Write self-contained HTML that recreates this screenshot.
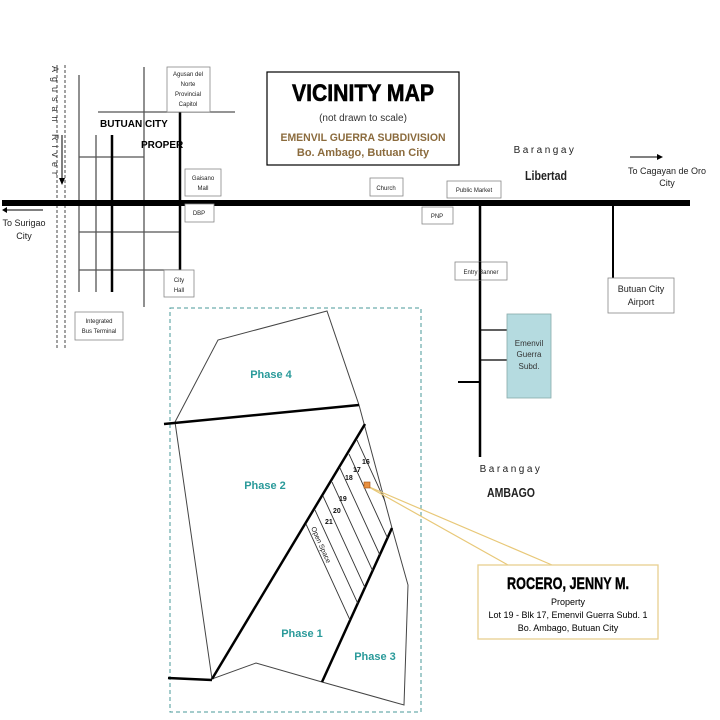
<!DOCTYPE html>
<html><head><meta charset="utf-8"><style>
html,body{margin:0;padding:0;background:#fff;}
svg{display:block;font-family:"Liberation Sans",sans-serif;}
.s{font-size:6px;fill:#222;}
</style></head><body>
<svg width="720" height="720" viewBox="0 0 720 720" xmlns="http://www.w3.org/2000/svg">
<defs>
<clipPath id="strip"><polygon points="212,679 365,424 392,528 322,682"/></clipPath>
</defs>
<rect width="720" height="720" fill="#fff"/>
<!-- river -->
<line x1="57" y1="65" x2="57" y2="350" stroke="#444" stroke-width="1" stroke-dasharray="3,2"/>
<line x1="65" y1="65" x2="65" y2="350" stroke="#444" stroke-width="1" stroke-dasharray="3,2"/>
<text transform="translate(52,66) rotate(90)" font-size="9" letter-spacing="5" fill="#333">Agusan   River</text>
<line x1="62" y1="135" x2="62" y2="178" stroke="#000" stroke-width="1"/>
<polygon points="59,178 65,178 62,185" fill="#000"/>
<!-- city grid -->
<g stroke="#555" stroke-width="1.3">
<line x1="79" y1="75" x2="79" y2="292"/>
<line x1="96" y1="135" x2="96" y2="292"/>
<line x1="144" y1="67" x2="144" y2="307"/>
<line x1="98" y1="112" x2="235" y2="112"/>
<line x1="79" y1="157" x2="144" y2="157"/>
<line x1="79" y1="232" x2="180" y2="232"/>
<line x1="79" y1="270" x2="180" y2="270"/>
</g>
<line x1="112" y1="135" x2="112" y2="292" stroke="#000" stroke-width="2.5"/>
<line x1="180" y1="112" x2="180" y2="270" stroke="#000" stroke-width="2.5"/>
<text x="100" y="127" font-size="10" font-weight="bold">BUTUAN CITY</text>
<text x="141" y="148" font-size="10" font-weight="bold">PROPER</text>
<!-- main road -->
<line x1="2" y1="203" x2="690" y2="203" stroke="#000" stroke-width="6"/>
<line x1="480" y1="203" x2="480" y2="457" stroke="#000" stroke-width="2.5"/>
<line x1="613" y1="203" x2="613" y2="278" stroke="#000" stroke-width="2"/>
<line x1="458" y1="382" x2="480" y2="382" stroke="#000" stroke-width="2"/>
<line x1="480" y1="330" x2="507" y2="330" stroke="#000" stroke-width="1.2"/>
<line x1="480" y1="360" x2="507" y2="360" stroke="#000" stroke-width="1.2"/>
<!-- arrows -->
<line x1="6" y1="210" x2="43" y2="210" stroke="#000" stroke-width="1"/>
<polygon points="2,210 7,207 7,213" fill="#000"/>
<text x="24" y="226" font-size="9" text-anchor="middle" fill="#222">To Surigao</text>
<text x="24" y="239" font-size="9" text-anchor="middle" fill="#222">City</text>
<line x1="630" y1="157" x2="658" y2="157" stroke="#000" stroke-width="1"/>
<polygon points="663,157 657,154 657,160" fill="#000"/>
<text x="667" y="174" font-size="9" text-anchor="middle" fill="#222">To  Cagayan de Oro</text>
<text x="667" y="186" font-size="9" text-anchor="middle" fill="#222">City</text>
<!-- small boxes -->
<g fill="#fff" stroke="#888" stroke-width="0.8">
<rect x="167" y="67" width="43" height="45"/>
<rect x="185" y="169" width="36" height="27"/>
<rect x="185" y="204" width="29" height="18"/>
<rect x="164" y="270" width="30" height="27"/>
<rect x="75" y="312" width="48" height="28"/>
<rect x="370" y="178" width="33" height="18"/>
<rect x="447" y="181" width="54" height="17"/>
<rect x="422" y="207" width="31" height="17"/>
<rect x="455" y="262" width="52" height="18"/>
<rect x="608" y="278" width="66" height="35"/>
</g>
<line x1="480" y1="262" x2="480" y2="280" stroke="#000" stroke-width="2.5"/>
<rect x="507" y="314" width="44" height="84" fill="#b5dbe0" stroke="#8aa" stroke-width="0.8"/>
<g class="s" text-anchor="middle">
<text x="188" y="76">Agusan del</text><text x="188" y="86">Norte</text><text x="188" y="96">Provincial</text><text x="188" y="106">Capitol</text>
<text x="203" y="180">Gaisano</text><text x="203" y="190">Mall</text>
<text x="199" y="215">DBP</text>
<text x="179" y="282">City</text><text x="179" y="292">Hall</text>
<text x="99" y="323">Integrated</text><text x="99" y="333">Bus Terminal</text>
<text x="386" y="190">Church</text>
<text x="474" y="192">Public Market</text>
<text x="437" y="218">PNP</text>
<text x="481" y="274">Entry Banner</text>
</g>
<text x="641" y="292" font-size="9" text-anchor="middle" fill="#222">Butuan City</text>
<text x="641" y="305" font-size="9" text-anchor="middle" fill="#222">Airport</text>
<text x="529" y="346" font-size="8" text-anchor="middle" fill="#333">Emenvil</text>
<text x="529" y="357" font-size="8" text-anchor="middle" fill="#333">Guerra</text>
<text x="529" y="369" font-size="8" text-anchor="middle" fill="#333">Subd.</text>
<!-- title -->
<rect x="267" y="72" width="192" height="93" fill="#fff" stroke="#000" stroke-width="1.2"/>
<text x="363" y="101" font-size="24" font-weight="bold" text-anchor="middle" textLength="142" lengthAdjust="spacingAndGlyphs" stroke="#000" stroke-width="0.6">VICINITY MAP</text>
<text x="363" y="121" font-size="10" text-anchor="middle" fill="#333">(not drawn to scale)</text>
<text x="363" y="141" font-size="11" font-weight="bold" text-anchor="middle" fill="#8b6b3d" textLength="165" lengthAdjust="spacingAndGlyphs">EMENVIL GUERRA SUBDIVISION</text>
<text x="363" y="156" font-size="11" font-weight="bold" text-anchor="middle" fill="#8b6b3d">Bo. Ambago, Butuan City</text>
<text x="545" y="153" font-size="10" letter-spacing="2.5" text-anchor="middle" fill="#222">Barangay</text>
<text x="546" y="180" font-size="13" font-weight="bold" text-anchor="middle" fill="#222" textLength="42" lengthAdjust="spacingAndGlyphs">Libertad</text>
<text x="511" y="472" font-size="10" letter-spacing="2.5" text-anchor="middle" fill="#222">Barangay</text>
<text x="511" y="497" font-size="13" font-weight="bold" text-anchor="middle" fill="#222" textLength="48" lengthAdjust="spacingAndGlyphs">AMBAGO</text>
<!-- dashed subdivision box -->
<rect x="170" y="308" width="251" height="404" fill="none" stroke="#4a9a9a" stroke-width="1" stroke-dasharray="4,3"/>
<!-- subdivision outline -->
<polyline points="175,422 218,340 327,311 359,405 392,528 408,585 404,705 322,682 256,663 212,679 175,422" fill="none" stroke="#444" stroke-width="1"/>
<line x1="164" y1="424" x2="359" y2="405" stroke="#000" stroke-width="2.5"/>
<line x1="168" y1="678" x2="212" y2="680" stroke="#000" stroke-width="2.5"/>
<line x1="212" y1="679" x2="365" y2="424" stroke="#000" stroke-width="2.5"/>
<line x1="322" y1="682" x2="392" y2="528" stroke="#000" stroke-width="2.5"/>
<g clip-path="url(#strip)" stroke="#333" stroke-width="0.9">
<line x1="306" y1="524" x2="350" y2="620"/>
<line x1="315" y1="510" x2="359" y2="606"/>
<line x1="323" y1="496" x2="367" y2="592"/>
<line x1="332" y1="482" x2="376" y2="578"/>
<line x1="340" y1="468" x2="384" y2="564"/>
<line x1="349" y1="454" x2="393" y2="550"/>
<line x1="357" y1="440" x2="401" y2="536"/>
</g>
<g font-size="7" font-weight="bold" fill="#111">
<text x="362" y="464">16</text><text x="353" y="472">17</text><text x="345" y="480">18</text>
<text x="339" y="501">19</text><text x="333" y="513">20</text><text x="325" y="524">21</text>
</g>
<text transform="translate(311,528) rotate(66)" font-size="7" fill="#111">Open Space</text>
<g font-size="11" font-weight="bold" fill="#2a9a9a" text-anchor="middle">
<text x="271" y="378">Phase 4</text>
<text x="265" y="489">Phase 2</text>
<text x="302" y="637">Phase 1</text>
<text x="375" y="660">Phase 3</text>
</g>
<!-- callout -->
<polyline points="508,565 367,486 552,565" fill="none" stroke="#e8c878" stroke-width="1.2"/>
<rect x="364" y="482" width="6" height="6" fill="#e89040" stroke="#a05010" stroke-width="0.6"/>
<rect x="478" y="565" width="180" height="74" fill="#fff" stroke="#e8d090" stroke-width="1.3"/>
<text x="568" y="589" font-size="17" font-weight="bold" text-anchor="middle" textLength="122" lengthAdjust="spacingAndGlyphs" stroke="#000" stroke-width="0.4">ROCERO, JENNY M.</text>
<text x="568" y="605" font-size="9" text-anchor="middle">Property</text>
<text x="568" y="618" font-size="9" text-anchor="middle">Lot 19 - Blk 17, Emenvil Guerra Subd. 1</text>
<text x="568" y="631" font-size="9" text-anchor="middle">Bo. Ambago, Butuan City</text>
</svg>
</body></html>
